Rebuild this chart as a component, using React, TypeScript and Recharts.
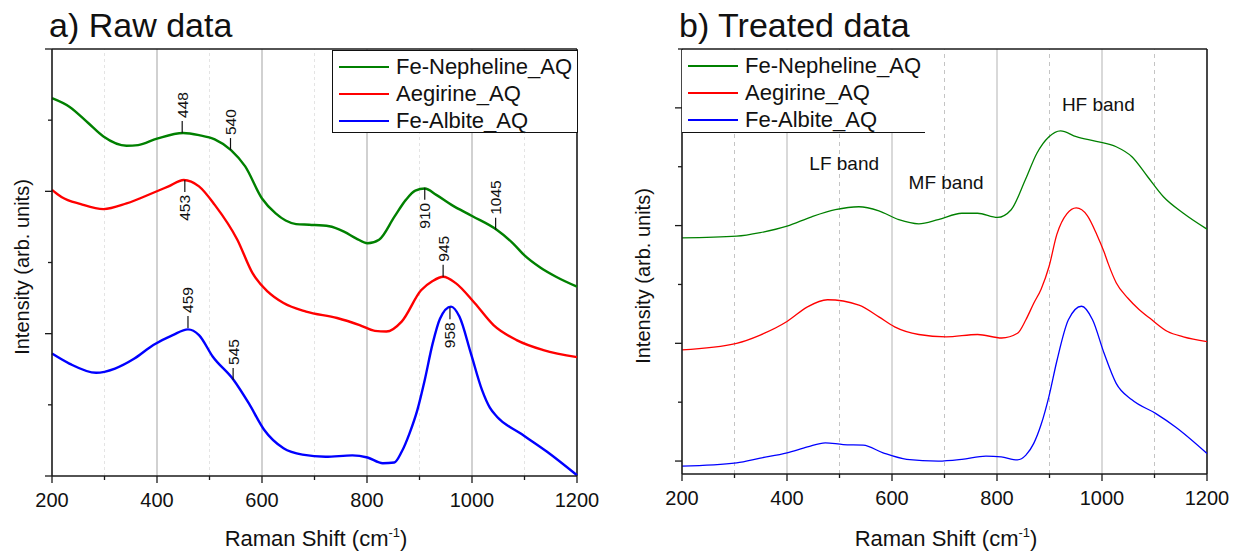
import { LineChart, Line, XAxis, YAxis, ReferenceLine, ReferenceDot, Legend } from "recharts"

const FONT = "Arial, 'Liberation Sans', Helvetica, sans-serif"

const seriesNames = ["Fe-Nepheline_AQ", "Aegirine_AQ", "Fe-Albite_AQ"]
const seriesColors = ["#008000", "#ff0000", "#0000ff"]

const xTicks = [200, 300, 400, 500, 600, 700, 800, 900, 1000, 1100, 1200]
const solidGrid = [400, 600, 800, 1000]
const dashedGrid = [300, 500, 700, 900, 1100]
const rawYTicks = [0, 1, 2, 3, 4, 5, 6]
const treatedYTicks = [0, 1, 2, 3, 4, 5, 6, 7]

// a) raw spectra (arb. units, read off the picture)
const rawNephX = [200, 233, 269, 298, 342, 364, 400, 450, 480, 510, 541, 568, 600, 626, 645, 665, 690, 728, 757, 779, 801, 823, 852, 874, 892, 910, 932, 961, 1001, 1047, 1078, 1100, 1130, 1160, 1200]
const rawNephY = [5.31, 5.19, 4.96, 4.77, 4.64, 4.65, 4.74, 4.82, 4.79, 4.73, 4.58, 4.35, 3.9, 3.69, 3.59, 3.54, 3.53, 3.51, 3.43, 3.34, 3.27, 3.32, 3.64, 3.88, 4.01, 4.04, 3.95, 3.81, 3.65, 3.46, 3.27, 3.1, 2.93, 2.8, 2.66]
const rawAegX = [200, 218, 255, 298, 342, 393, 422, 451, 480, 510, 553, 582, 611, 641, 684, 743, 786, 815, 837, 866, 903, 925, 945, 969, 1005, 1041, 1085, 1136, 1200]
const rawAegY = [4.02, 3.92, 3.82, 3.75, 3.83, 3.98, 4.07, 4.16, 4.07, 3.81, 3.32, 2.85, 2.59, 2.43, 2.31, 2.22, 2.12, 2.04, 2.03, 2.17, 2.61, 2.74, 2.8, 2.71, 2.43, 2.12, 1.91, 1.77, 1.67]
const rawAlbX = [200, 233, 284, 320, 357, 393, 430, 459, 480, 506, 546, 575, 604, 641, 677, 721, 772, 801, 830, 852, 866, 881, 896, 910, 925, 939, 960, 976, 998, 1019, 1034, 1048, 1092, 1143, 1200]
const rawAlbY = [1.72, 1.58, 1.45, 1.51, 1.65, 1.84, 1.98, 2.06, 1.98, 1.68, 1.35, 1.02, 0.65, 0.39, 0.3, 0.27, 0.29, 0.26, 0.18, 0.19, 0.34, 0.6, 0.93, 1.35, 1.86, 2.21, 2.38, 2.24, 1.72, 1.21, 0.96, 0.83, 0.6, 0.34, 0.01]

// b) treated spectra
const trNephX = [200, 304, 349, 400, 447, 492, 537, 575, 613, 651, 688, 733, 763, 801, 827, 854, 876, 899, 921, 951, 989, 1027, 1057, 1087, 1117, 1155, 1200]
const trNephY = [3.79, 3.82, 3.88, 3.99, 4.15, 4.27, 4.32, 4.25, 4.1, 4.03, 4.1, 4.21, 4.21, 4.14, 4.27, 4.78, 5.23, 5.51, 5.61, 5.51, 5.43, 5.34, 5.17, 4.83, 4.49, 4.21, 3.94]
const trAegX = [200, 304, 349, 400, 439, 477, 537, 575, 605, 651, 703, 763, 809, 839, 855, 870, 884, 899, 914, 933, 951, 972, 990, 1004, 1012, 1027, 1049, 1070, 1092, 1125, 1155, 1200]
const trAegY = [1.89, 2.0, 2.14, 2.37, 2.62, 2.74, 2.65, 2.45, 2.28, 2.15, 2.11, 2.15, 2.09, 2.17, 2.4, 2.68, 2.92, 3.3, 3.85, 4.2, 4.3, 4.17, 3.85, 3.55, 3.35, 3.03, 2.77, 2.58, 2.42, 2.2, 2.11, 2.03]
const trAlbX = [200, 304, 349, 400, 439, 473, 507, 545, 583, 628, 688, 733, 779, 808, 839, 855, 870, 884, 899, 914, 936, 961, 982, 1004, 1027, 1057, 1102, 1140, 1200]
const trAlbY = [-0.085, -0.03, 0.05, 0.14, 0.24, 0.31, 0.28, 0.27, 0.14, 0.03, 0.0, 0.03, 0.085, 0.07, 0.02, 0.1, 0.3, 0.62, 1.1, 1.7, 2.4, 2.63, 2.4, 1.83, 1.32, 1.04, 0.81, 0.58, 0.13]

// peak markers on the raw panel
const peakX = [448, 540, 910, 1045, 453, 945, 459, 545, 958]
const peakY = [4.82, 4.58, 4.05, 3.46, 4.16, 2.8, 2.08, 1.35, 2.37]
const peakUp = [true, true, false, true, false, true, true, true, false]

// band names on the treated panel
const bandNames = ["LF band", "MF band", "HF band"]
const bandX = [509, 703, 993]
const bandY = [5.05, 4.73, 6.05]

const toPoints = (xs: number[], ys: number[]) => xs.map((x, i) => ({ x, y: ys[i] }))

const rawSeries = [toPoints(rawNephX, rawNephY), toPoints(rawAegX, rawAegY), toPoints(rawAlbX, rawAlbY)]
const treatedSeries = [toPoints(trNephX, trNephY), toPoints(trAegX, trAegY), toPoints(trAlbX, trAlbY)]

const AXIS = "#1a1a1a"

function XTick(props: any) {
  const { x, y, payload } = props
  const major = payload.value % 200 === 0
  return (
    <g>
      <line x1={x} y1={y} x2={x} y2={y + (major ? 7 : 4)} stroke={AXIS} strokeWidth={1.3} />
      {major && (
        <text x={x} y={y + 31} textAnchor="middle" fontSize={20} fontFamily={FONT} fill="#111">
          {payload.value}
        </text>
      )}
    </g>
  )
}

function YTick(props: any) {
  const { x, y, payload } = props
  const major = payload.value % 2 === 0
  return <line x1={x} y1={y} x2={x - (major ? 7 : 4)} y2={y} stroke={AXIS} strokeWidth={1.3} />
}

function PeakMark({ cx, cy, label, up }: any) {
  const len = 12
  const end = up ? cy - len : cy + len
  const ty = up ? end - 3 : end + 3
  return (
    <g>
      <line x1={cx} y1={cy} x2={cx} y2={end} stroke="#111" strokeWidth={1.2} />
      <text
        x={cx}
        y={ty}
        transform={`rotate(-90 ${cx} ${ty})`}
        textAnchor={up ? "start" : "end"}
        dominantBaseline="central"
        fontSize={15.5}
        fontFamily={FONT}
        fill="#111"
      >
        {label}
      </text>
    </g>
  )
}

function BandText({ cx, cy, label }: any) {
  return (
    <text x={cx} y={cy} textAnchor="middle" dominantBaseline="central" fontSize={19} fontFamily={FONT} fill="#111">
      {label}
    </text>
  )
}

function LegendBox({ lineWidth, full }: { lineWidth: number; full: boolean }) {
  return (
    <div
      style={{
        boxSizing: "border-box",
        width: "100%",
        height: "100%",
        background: "#fff",
        border: full ? "1.5px solid #111" : "none",
        borderBottom: "1.5px solid #111",
        paddingTop: 3,
        fontFamily: FONT,
        fontSize: 22,
        color: "#111",
      }}
    >
      {seriesNames.map((name, i) => (
        <div key={name} style={{ display: "flex", alignItems: "center", height: 26.7, paddingLeft: 6, whiteSpace: "nowrap" }}>
          <div style={{ width: 50, height: lineWidth, background: seriesColors[i], marginRight: 7 }} />
          <span>{name}</span>
        </div>
      ))}
    </div>
  )
}

function RawChart() {
  return (
    <LineChart width={620} height={555} margin={{ top: 49, right: 43, bottom: 0, left: 0 }}>
      <XAxis
        type="number"
        dataKey="x"
        domain={[200, 1200]}
        ticks={xTicks}
        interval={0}
        height={79}
        tickSize={0}
        tickMargin={0}
        tickLine={false}
        tick={<XTick />}
        axisLine={{ stroke: AXIS, strokeWidth: 1.6 }}
        allowDuplicatedCategory={false}
      />
      <YAxis
        type="number"
        domain={[0, 6]}
        ticks={rawYTicks}
        interval={0}
        width={52}
        tickSize={0}
        tickMargin={0}
        tickLine={false}
        tick={<YTick />}
        axisLine={{ stroke: AXIS, strokeWidth: 1.6 }}
      />
      {dashedGrid.map((v) => (
        <ReferenceLine key={"d" + v} x={v} stroke="#e4e4e4" strokeDasharray="3 3" strokeWidth={1} />
      ))}
      {solidGrid.map((v) => (
        <ReferenceLine key={"s" + v} x={v} stroke="#a3a3a3" strokeWidth={1} />
      ))}
      <ReferenceLine y={6} stroke={AXIS} strokeWidth={1.6} />
      <ReferenceLine x={1200} stroke={AXIS} strokeWidth={1.6} />
      {rawSeries.map((pts, i) => (
        <Line
          key={seriesNames[i]}
          data={pts}
          dataKey="y"
          name={seriesNames[i]}
          type="monotone"
          stroke={seriesColors[i]}
          strokeWidth={2.4}
          dot={false}
          isAnimationActive={false}
        />
      ))}
      {peakX.map((px, i) => (
        <ReferenceDot
          key={"p" + i}
          x={px}
          y={peakY[i]}
          r={0}
          shape={(p: any) => <PeakMark cx={p.cx} cy={p.cy} label={String(px)} up={peakUp[i]} />}
        />
      ))}
      <Legend
        layout="vertical"
        align="center"
        verticalAlign="middle"
        wrapperStyle={{ left: 332, top: 50, width: 246, height: 83 }}
        content={() => <LegendBox lineWidth={2.2} full={true} />}
      />
    </LineChart>
  )
}

function TreatedChart() {
  return (
    <LineChart width={621} height={555} margin={{ top: 49, right: 34, bottom: 0, left: 0 }}>
      <XAxis
        type="number"
        dataKey="x"
        domain={[200, 1200]}
        ticks={xTicks}
        interval={0}
        height={81}
        tickSize={0}
        tickMargin={0}
        tickLine={false}
        tick={<XTick />}
        axisLine={{ stroke: AXIS, strokeWidth: 1.6 }}
        allowDuplicatedCategory={false}
      />
      <YAxis
        type="number"
        domain={[-0.22, 7]}
        ticks={treatedYTicks}
        interval={0}
        width={62}
        tickSize={0}
        tickMargin={0}
        tickLine={false}
        tick={<YTick />}
        axisLine={{ stroke: AXIS, strokeWidth: 1.6 }}
      />
      {dashedGrid.map((v) => (
        <ReferenceLine key={"d" + v} x={v} stroke="#c4c4c4" strokeDasharray="4 4" strokeWidth={1} />
      ))}
      {solidGrid.map((v) => (
        <ReferenceLine key={"s" + v} x={v} stroke="#b3b3b3" strokeWidth={1} />
      ))}
      <ReferenceLine y={7} stroke={AXIS} strokeWidth={1.6} />
      <ReferenceLine x={1200} stroke={AXIS} strokeWidth={1.6} />
      {treatedSeries.map((pts, i) => (
        <Line
          key={seriesNames[i]}
          data={pts}
          dataKey="y"
          name={seriesNames[i]}
          type="monotone"
          stroke={seriesColors[i]}
          strokeWidth={1.3}
          dot={false}
          isAnimationActive={false}
        />
      ))}
      {bandNames.map((name, i) => (
        <ReferenceDot
          key={name}
          x={bandX[i]}
          y={bandY[i]}
          r={0}
          shape={(p: any) => <BandText cx={p.cx} cy={p.cy} label={name} />}
        />
      ))}
      <Legend
        layout="vertical"
        align="center"
        verticalAlign="middle"
        wrapperStyle={{ left: 62, top: 50, width: 243, height: 83 }}
        content={() => <LegendBox lineWidth={1.8} full={false} />}
      />
    </LineChart>
  )
}

export default function App() {
  return (
    <div style={{ position: "absolute", left: 0, top: 0, width: 1241, height: 555, background: "#fff", overflow: "hidden" }}>
      <div style={{ position: "absolute", left: 0, top: 0 }}>
        <RawChart />
      </div>
      <div style={{ position: "absolute", left: 620, top: 0 }}>
        <TreatedChart />
      </div>
      <svg width={1241} height={555} style={{ position: "absolute", left: 0, top: 0, pointerEvents: "none" }} fontFamily={FONT} fill="#111">
        <text x={49} y={37} fontSize={34}>a) Raw data</text>
        <text x={679} y={37} fontSize={34}>b) Treated data</text>
        <text x={316} y={546} fontSize={22} textAnchor="middle">
          Raman Shift (cm<tspan dy={-9} fontSize={13}>-1</tspan><tspan dy={9}>)</tspan>
        </text>
        <text x={946} y={546} fontSize={22} textAnchor="middle">
          Raman Shift (cm<tspan dy={-9} fontSize={13}>-1</tspan><tspan dy={9}>)</tspan>
        </text>
        <text x={22} y={267} fontSize={20} textAnchor="middle" dominantBaseline="central" transform="rotate(-90 22 267)">
          Intensity (arb. units)
        </text>
        <text x={643} y={276} fontSize={20} textAnchor="middle" dominantBaseline="central" transform="rotate(-90 643 276)">
          Intensity (arb. units)
        </text>
      </svg>
    </div>
  )
}
